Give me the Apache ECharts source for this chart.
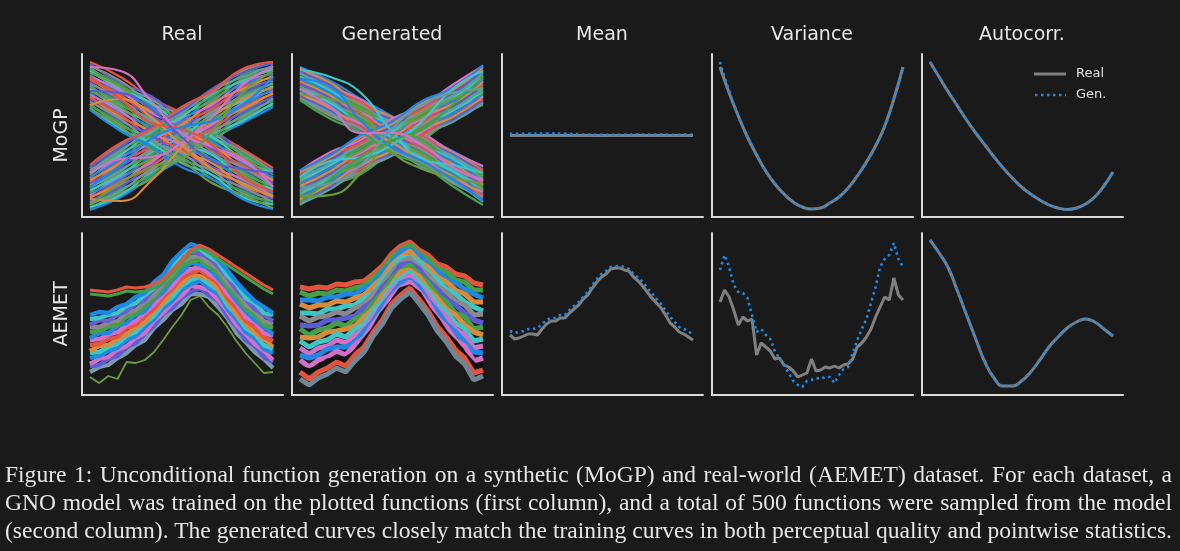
<!DOCTYPE html>
<html lang="en">
<head>
    <meta charset="utf-8" />
    <title>Unconditional function generation</title>
    <script type="text/javascript" src="https://cdn.jsdelivr.net/npm/echarts@6/dist/echarts.min.js"></script>
    <style type="text/css">
        html, body { margin: 0; padding: 0; background: #1a1a1a; }
        #main { width: 1180px; height: 551px; position: absolute; left: 0; top: 0; }
        .caption {
            position: absolute; left: 5px; width: 1167px; top: 460px;
            font-family: "Liberation Serif", "DejaVu Serif", serif;
            font-size: 22px; line-height: 28px; color: #e6e6e6;
        }
        .caption div { text-align: justify; text-align-last: justify; white-space: nowrap; }
    </style>
</head>
<body>
    <div id="main"></div>
    <div class="caption" id="caption">
        <div>Figure 1: Unconditional function generation on a synthetic (MoGP) and real-world (AEMET) dataset. For each dataset, a</div>
        <div>GNO model was trained on the plotted functions (first column), and a total of 500 functions were sampled from the model</div>
        <div>(second column). The generated curves closely match the training curves in both perceptual quality and pointwise statistics.</div>
    </div>

    <script type="text/javascript">
        // column / row titles
        var colTitles = ['Real', 'Generated', 'Mean', 'Variance', 'Autocorr.'];
        var rowTitles = ['MoGP', 'AEMET'];
        var legendNames = ['Real', 'Gen.'];

        // x positions (0..100 across each panel)
        var xs7 = [0, 16.7, 33.3, 50, 66.7, 83.3, 100];
        var xs11 = [0, 10, 20, 30, 40, 50, 60, 70, 80, 90, 100];
        var xs21 = [0, 5, 10, 15, 20, 25, 30, 35, 40, 45, 50, 55, 60, 65, 70, 75, 80, 85, 90, 95, 100];
        var xs41 = [0, 2.5, 5, 7.5, 10, 12.5, 15, 17.5, 20, 22.5, 25, 27.5, 30, 32.5, 35, 37.5, 40, 42.5, 45, 47.5, 50,
            52.5, 55, 57.5, 60, 62.5, 65, 67.5, 70, 72.5, 75, 77.5, 80, 82.5, 85, 87.5, 90, 92.5, 95, 97.5, 100];

        // MoGP real curves (falling family / rising family)
        var mogpRealDown = [
            [155, 140, 119, 104, 86, 68, 49], [153, 134, 121, 100, 88, 64, 47], [151, 136, 114, 102, 80, 66, 45],
            [149, 130, 118, 96, 84, 62, 46], [147, 132, 112, 98, 78, 64, 42], [146, 128, 114, 92, 80, 58, 44],
            [144, 130, 108, 94, 74, 60, 38], [142, 124, 110, 90, 76, 54, 40], [140, 126, 104, 92, 70, 56, 36],
            [138, 120, 106, 86, 72, 50, 37], [137, 122, 100, 88, 66, 52, 33], [135, 116, 102, 82, 68, 48, 34],
            [133, 118, 96, 84, 62, 50, 30], [131, 112, 98, 78, 64, 44, 31], [129, 114, 92, 80, 58, 46, 27],
            [128, 108, 94, 74, 62, 40, 28], [126, 110, 88, 76, 54, 42, 24], [124, 104, 90, 70, 58, 36, 25],
            [122, 106, 84, 72, 50, 38, 21], [120, 100, 86, 66, 54, 32, 22], [119, 102, 80, 68, 46, 34, 18],
            [117, 96, 82, 62, 50, 28, 19], [115, 98, 76, 64, 42, 30, 15], [113, 92, 78, 58, 46, 24, 16],
            [111, 94, 72, 60, 38, 26, 12], [109, 88, 74, 54, 42, 20, 13], [108, 90, 68, 56, 34, 22, 9],
            [107, 86, 70, 50, 38, 18, 8], [150, 146, 116, 84, 70, 58, 30], [112, 118, 100, 72, 48, 34, 20],
            [140, 118, 94, 88, 72, 40, 26], [126, 124, 108, 80, 56, 48, 44]
        ];
        var mogpRealUp = [
            [7, 20, 40, 58, 78, 94, 110], [9, 24, 38, 62, 76, 98, 112], [10, 22, 44, 60, 82, 96, 114],
            [12, 28, 42, 66, 80, 102, 116], [14, 26, 48, 64, 86, 100, 118], [15, 32, 46, 70, 84, 106, 119],
            [17, 30, 52, 68, 90, 104, 121], [19, 36, 50, 74, 88, 110, 123], [20, 34, 56, 72, 94, 108, 124],
            [22, 40, 54, 78, 92, 114, 126], [24, 38, 60, 76, 98, 112, 128], [25, 44, 58, 82, 96, 118, 129],
            [27, 42, 64, 80, 102, 116, 131], [29, 48, 62, 86, 100, 122, 133], [30, 46, 68, 84, 106, 120, 134],
            [32, 52, 66, 90, 104, 126, 136], [34, 50, 72, 88, 110, 124, 138], [35, 56, 70, 94, 108, 130, 139],
            [37, 54, 76, 92, 114, 128, 141], [39, 60, 74, 98, 112, 134, 143], [40, 58, 80, 96, 118, 132, 144],
            [42, 64, 78, 102, 116, 138, 146], [44, 62, 84, 100, 122, 136, 148], [45, 68, 82, 106, 120, 142, 149],
            [47, 66, 88, 104, 126, 140, 151], [49, 72, 86, 108, 124, 146, 153], [50, 70, 90, 106, 128, 144, 154],
            [52, 74, 88, 110, 126, 148, 155], [18, 16, 36, 70, 100, 118, 130], [44, 58, 60, 74, 100, 132, 150],
            [30, 52, 78, 90, 96, 112, 140], [12, 34, 50, 58, 86, 124, 146]
        ];
        // MoGP generated curves
        var mogpGenDown = [
            [150, 136, 118, 101, 82, 66, 50], [149, 131, 117, 97, 84, 65, 51], [148, 134, 113, 100, 80, 64, 47],
            [146, 128, 115, 94, 81, 61, 47], [145, 131, 110, 97, 77, 63, 44], [144, 126, 112, 92, 79, 59, 45],
            [143, 129, 108, 95, 75, 61, 41], [141, 123, 110, 89, 77, 56, 42], [140, 126, 105, 92, 72, 58, 38],
            [139, 121, 108, 87, 74, 54, 40], [138, 124, 103, 90, 70, 56, 36], [136, 118, 105, 84, 72, 51, 37],
            [135, 121, 100, 87, 67, 53, 33], [134, 116, 103, 82, 69, 49, 35], [133, 119, 98, 85, 65, 51, 31],
            [131, 113, 100, 79, 67, 46, 32], [130, 116, 95, 82, 62, 48, 28], [129, 111, 98, 77, 64, 44, 30],
            [128, 114, 93, 80, 60, 46, 26], [126, 108, 95, 74, 62, 41, 27], [125, 111, 90, 77, 57, 43, 23],
            [124, 106, 93, 72, 59, 39, 25], [123, 109, 88, 75, 55, 41, 21], [121, 103, 90, 69, 57, 36, 22],
            [120, 106, 85, 72, 52, 38, 18], [119, 101, 88, 67, 54, 34, 20], [118, 104, 83, 70, 50, 36, 15],
            [117, 98, 85, 64, 52, 31, 12], [147, 140, 124, 86, 58, 52, 44], [122, 118, 104, 66, 48, 40, 32],
            [138, 130, 96, 70, 56, 38, 16], [128, 110, 84, 84, 72, 50, 36]
        ];
        var mogpGenUp = [
            [12, 31, 43, 64, 77, 98, 112], [13, 28, 48, 61, 82, 95, 114], [14, 33, 45, 66, 79, 100, 115],
            [16, 31, 51, 64, 85, 98, 117], [17, 36, 48, 69, 82, 103, 118], [18, 33, 53, 66, 87, 100, 120],
            [20, 39, 51, 72, 85, 106, 121], [21, 36, 56, 69, 90, 103, 123], [22, 41, 53, 74, 87, 108, 124],
            [24, 39, 59, 72, 93, 106, 126], [25, 44, 56, 77, 90, 111, 127], [26, 41, 61, 74, 95, 108, 129],
            [27, 46, 58, 79, 92, 113, 130], [29, 44, 64, 77, 98, 111, 132], [30, 49, 61, 82, 95, 116, 133],
            [31, 46, 66, 79, 100, 113, 135], [33, 52, 64, 85, 98, 119, 136], [34, 49, 69, 82, 103, 116, 138],
            [35, 54, 66, 87, 100, 121, 139], [37, 52, 72, 85, 106, 119, 141], [38, 57, 69, 90, 103, 124, 142],
            [39, 54, 74, 87, 108, 121, 144], [41, 60, 72, 93, 106, 127, 145], [42, 57, 77, 90, 111, 124, 147],
            [43, 62, 74, 95, 108, 129, 148], [45, 60, 80, 93, 114, 127, 150], [46, 65, 77, 98, 111, 132, 151],
            [47, 62, 82, 95, 116, 129, 152], [20, 22, 44, 80, 104, 118, 130], [40, 56, 60, 72, 96, 128, 146],
            [15, 38, 60, 76, 88, 112, 140], [30, 34, 52, 88, 112, 124, 128]
        ];

        // AEMET real curves (21 points each)
        var aemetReal = [
            [23, 28, 30, 37, 42, 50, 55, 67, 75, 85, 91, 101, 101, 98, 88, 77, 62, 53, 43, 36, 27],
            [29, 30, 36, 39, 48, 52, 61, 69, 81, 87, 97, 103, 107, 100, 94, 79, 68, 55, 49, 38, 33],
            [31, 36, 38, 45, 49, 57, 62, 74, 82, 92, 99, 109, 108, 105, 95, 84, 70, 61, 51, 44, 35],
            [37, 39, 44, 47, 55, 59, 68, 76, 87, 94, 105, 111, 114, 107, 101, 86, 76, 63, 57, 46, 42],
            [42, 43, 48, 51, 59, 63, 72, 79, 91, 98, 109, 115, 118, 111, 105, 90, 80, 67, 61, 50, 46],
            [44, 49, 50, 56, 61, 68, 73, 84, 92, 104, 111, 120, 119, 116, 106, 95, 81, 72, 62, 56, 48],
            [50, 51, 56, 58, 67, 70, 79, 86, 98, 106, 117, 122, 125, 118, 112, 97, 87, 74, 68, 58, 54],
            [55, 56, 60, 63, 70, 74, 82, 90, 101, 109, 121, 126, 128, 121, 115, 101, 92, 78, 73, 62, 59],
            [57, 62, 62, 69, 72, 80, 84, 96, 103, 115, 123, 132, 130, 127, 117, 107, 94, 84, 75, 68, 61],
            [63, 64, 68, 70, 78, 81, 89, 97, 108, 117, 129, 134, 135, 128, 122, 108, 99, 86, 80, 70, 67],
            [68, 68, 72, 74, 82, 85, 93, 100, 112, 121, 133, 138, 139, 132, 126, 112, 103, 90, 84, 74, 71],
            [70, 75, 74, 80, 84, 91, 95, 106, 113, 127, 135, 143, 141, 138, 128, 118, 105, 96, 86, 80, 74],
            [76, 77, 80, 82, 89, 92, 100, 107, 118, 128, 141, 145, 146, 139, 133, 119, 111, 97, 92, 82, 80],
            [80, 83, 82, 88, 91, 98, 102, 113, 120, 134, 143, 151, 148, 145, 135, 125, 113, 103, 94, 88, 82]
        ];
        var aemetRealColors = ['#7b9bab', '#5c5bd6', '#d26fc6', '#1e88e5', '#3cc6c6', '#d98a3c', '#e4533d',
            '#d26fc6', '#1e88e5', '#43a047', '#8a8a8a', '#6b5fd0', '#3cc6c6', '#1e88e5'];
        var aemetRealLow = [18, 12, 19, 16, 33, 32, 35, 43, 55, 68, 80, 95, 99, 88, 80, 68, 54, 42, 32, 22, 23];
        var aemetRealTopRed = [105, 104, 103, 105, 108, 107, 108, 111, 116, 125, 135, 145, 150, 146, 140, 134, 128, 122, 116, 110, 105];
        var aemetRealTopGreen = [101, 100, 99, 101, 104, 103, 104, 107, 113, 122, 132, 142, 147, 142, 136, 130, 124, 118, 112, 106, 101];

        // AEMET generated curves
        var aemetGen = [
            [108, 106, 108, 107, 111, 110, 113, 114, 121, 129, 141, 149, 153, 145, 140, 131, 128, 121, 119, 112, 110],
            [103, 99, 102, 101, 105, 104, 107, 109, 117, 125, 137, 145, 150, 141, 136, 126, 123, 115, 113, 105, 105],
            [95, 95, 94, 98, 98, 101, 101, 107, 111, 123, 132, 144, 145, 140, 130, 124, 116, 112, 106, 101, 97],
            [91, 87, 90, 90, 94, 93, 97, 100, 109, 117, 130, 138, 144, 134, 128, 118, 113, 105, 101, 93, 93],
            [82, 82, 81, 86, 86, 89, 90, 97, 102, 115, 124, 137, 138, 133, 122, 115, 106, 101, 93, 88, 84],
            [79, 74, 78, 79, 83, 81, 87, 91, 101, 110, 123, 132, 137, 128, 120, 109, 103, 94, 90, 80, 81],
            [70, 69, 70, 75, 75, 77, 79, 88, 94, 108, 117, 130, 132, 126, 114, 106, 96, 90, 82, 75, 72],
            [66, 60, 65, 67, 72, 69, 76, 81, 92, 102, 116, 124, 130, 120, 112, 100, 93, 82, 78, 66, 68],
            [58, 57, 58, 63, 64, 66, 69, 78, 86, 100, 110, 123, 125, 119, 106, 97, 86, 80, 70, 63, 60],
            [54, 48, 53, 55, 61, 58, 66, 71, 84, 94, 109, 117, 123, 113, 104, 91, 83, 72, 66, 54, 56],
            [47, 41, 47, 49, 55, 52, 60, 66, 79, 90, 105, 113, 120, 109, 100, 86, 78, 66, 60, 47, 49],
            [40, 37, 40, 46, 48, 48, 53, 64, 74, 89, 100, 112, 115, 108, 94, 84, 71, 63, 53, 43, 42],
            [35, 28, 35, 38, 44, 40, 50, 57, 71, 83, 98, 107, 113, 103, 92, 77, 68, 55, 49, 34, 37],
            [27, 24, 27, 34, 36, 36, 42, 54, 65, 81, 92, 105, 108, 101, 86, 75, 61, 52, 40, 30, 29],
            [23, 16, 23, 27, 33, 29, 40, 48, 63, 75, 91, 100, 107, 96, 84, 69, 58, 45, 37, 22, 25],
            [16, 10, 17, 21, 27, 23, 34, 43, 59, 71, 87, 96, 103, 92, 80, 64, 53, 39, 31, 15, 19]
        ];
        var aemetGenColors = ['#e4533d', '#43a047', '#1e88e5', '#d98a3c', '#3cc6c6', '#8a8a8a', '#5c5bd6',
            '#43a047', '#d98a3c', '#3cc6c6', '#d26fc6', '#1e88e5', '#d26fc6', '#111111', '#e4533d', '#6f8794'];

        // pointwise statistics (Real = gray, Gen. = blue dotted)
        var meanMogpReal = [81.5, 81.6, 81.5, 81.4, 81.5, 81.6, 81.5, 81.4, 81.5, 81.5, 81.5];
        var meanMogpGen = [83.3, 83.3, 83.4, 83.3, 82.5, 82.1, 82.3, 82.5, 82.4, 82.3, 82.4];
        var varMogpReal = [150, 124, 101, 80, 62, 46, 33, 23, 15, 10, 8, 9, 14, 20, 29, 41, 55, 71, 91, 118, 150];
        var varMogpGen = [155, 126, 101, 80, 62, 46, 33, 23, 15, 10, 8, 9, 14, 20, 29, 41, 54, 71, 90, 118, 150];
        var acMogpReal = [155, 140, 125, 111, 97, 84, 72, 60, 49, 39, 30, 23, 17, 12, 9, 7.5, 9, 13, 20, 31, 45];
        var acMogpGen = [155, 140, 125, 111, 97, 84, 72, 60, 49, 39, 30, 23, 17, 12, 9, 7.5, 9, 13, 20, 31, 45];

        var meanAemetReal = [60, 56, 57, 59, 61, 61, 60, 66, 71, 74, 74, 77, 77, 82, 86, 90, 96, 100, 107, 113, 118,
            121, 126, 127, 127, 125, 124, 118, 114, 109, 103, 97, 92, 87, 80, 72, 68, 63, 61, 58, 55];
        var meanAemetGen = [64, 62, 63, 64, 66, 66, 67, 71, 75, 77, 77, 80, 80, 85, 89, 93, 98, 103, 110, 116, 121,
            124, 128, 129, 129, 128, 126, 121, 117, 113, 107, 102, 96, 91, 85, 78, 73, 68, 66, 64, 60];
        var varAemetReal = [93, 105, 98, 85, 70, 78, 74, 76, 40, 52, 48, 44, 36, 37, 30, 28, 24, 18, 20, 22, 36,
            24, 25, 28, 27, 29, 27, 30, 31, 36, 48, 52, 58, 66, 78, 88, 98, 95, 117, 100, 95];
        var varAemetGen = [125, 140, 128, 110, 103, 102, 97, 80, 63, 66, 60, 56, 44, 36, 30, 22, 14, 10, 8, 14, 15,
            17, 16, 18, 18, 12, 20, 26, 28, 42, 55, 66, 76, 92, 108, 128, 136, 140, 152, 136, 128];
        var acAemetReal = [155, 142, 127, 104, 80, 56, 33, 17, 9, 9, 14, 23, 35, 48, 58, 67, 73, 76, 73, 66, 59];
        var acAemetGen = [155, 142, 127, 104, 80, 56, 33, 17, 9, 9, 14, 23, 35, 48, 58, 67, 73, 76, 73, 66, 59];

        var palette = ['#e4533d', '#1e88e5', '#43a047', '#5c5bd6', '#d26fc6', '#3cc6c6', '#8a8a8a', '#d98a3c', '#6d9a3f', '#5f9ea0'];

        // fit caption font so the last (unjustified) line spans the text width
        (function () {
            var cap = document.getElementById('caption');
            var ctx = document.createElement('canvas').getContext('2d');
            ctx.font = '22px "Liberation Serif"';
            var w = ctx.measureText(cap.children[2].textContent).width;
            cap.style.fontSize = (22 * 1165 / w).toFixed(2) + 'px';
        })();

        var colLeft = [82, 292, 502, 712, 922];
        var rowTop = [54, 233];
        var rowH = [163, 162];

        var grids = [], xAxes = [], yAxes = [], series = [], graphics = [];
        var spine = { show: true, onZero: false, lineStyle: { color: '#d8d8d8', width: 2 } };

        for (var r = 0; r < 2; r++) {
            for (var c = 0; c < 5; c++) {
                grids.push({ left: colLeft[c], top: rowTop[r], width: 201, height: rowH[r] });
                var gi = grids.length - 1;
                xAxes.push({
                    type: 'value', gridIndex: gi, min: -4.37, max: 105.46,
                    axisLine: spine, axisTick: { show: false }, axisLabel: { show: false }, splitLine: { show: false }
                });
                yAxes.push({
                    type: 'value', gridIndex: gi, min: 0, max: rowH[r],
                    axisLine: spine, axisTick: { show: false }, axisLabel: { show: false }, splitLine: { show: false }
                });
            }
        }

        function curve(idx, xs, ys, color, width, smooth, dash) {
            var d = [];
            for (var i = 0; i < xs.length; i++) d.push([xs[i], ys[i]]);
            var s = {
                type: 'line', xAxisIndex: idx, yAxisIndex: idx, data: d,
                symbol: 'none', showSymbol: false, smooth: smooth, silent: true,
                lineStyle: { color: color, width: width }, itemStyle: { color: color },
                emphasis: { disabled: true }
            };
            if (dash) s.lineStyle.type = dash;
            series.push(s);
        }

        // MoGP spaghetti, interleave families so colours mix
        for (var i = 0; i < mogpRealDown.length; i++) {
            curve(0, xs7, mogpRealDown[i], palette[(i * 3) % 10], 2.2, 0.5);
            curve(0, xs7, mogpRealUp[i], palette[(i * 7 + 1) % 10], 2.2, 0.5);
        }
        for (var i = 0; i < mogpGenDown.length; i++) {
            curve(1, xs7, mogpGenDown[i], palette[(i * 3 + 1) % 10], 2.2, 0.5);
            curve(1, xs7, mogpGenUp[i], palette[(i * 7 + 2) % 10], 2.2, 0.5);
        }

        // AEMET spaghetti
        curve(5, xs21, aemetRealLow, '#6d9a3f', 1.8, false);
        for (var i = 0; i < aemetReal.length; i++) {
            curve(5, xs21, aemetReal[i], aemetRealColors[i], 4.3, false);
        }
        curve(5, xs21, aemetRealTopGreen, '#43a047', 3, false);
        curve(5, xs21, aemetRealTopRed, '#e4533d', 3, false);
        for (var i = 0; i < aemetGen.length; i++) {
            curve(6, xs21, aemetGen[i], aemetGenColors[i], 5, false);
        }

        // statistics
        var grayLine = '#808080', blueDot = '#1e88e5', dotType = [2.5, 3.5];
        curve(2, xs11, meanMogpReal, grayLine, 3, true);
        curve(2, xs11, meanMogpGen, blueDot, 2.6, true, dotType);
        curve(3, xs21, varMogpReal, grayLine, 3, true);
        curve(3, xs21, varMogpGen, blueDot, 2.6, true, dotType);
        curve(4, xs21, acMogpReal, grayLine, 3, true);
        curve(4, xs21, acMogpGen, blueDot, 2.6, true, dotType);
        curve(7, xs41, meanAemetReal, grayLine, 3, false);
        curve(7, xs41, meanAemetGen, blueDot, 2.6, false, dotType);
        curve(8, xs41, varAemetReal, grayLine, 3, false);
        curve(8, xs41, varAemetGen, blueDot, 2.6, false, dotType);
        curve(9, xs21, acAemetReal, grayLine, 3, true);
        curve(9, xs21, acAemetGen, blueDot, 2.6, true, dotType);

        // column titles and row labels
        for (var c = 0; c < 5; c++) {
            graphics.push({
                type: 'text', x: colLeft[c] + 100, y: 35, silent: true,
                style: { text: colTitles[c], fill: '#e6e6e6', font: '19px "DejaVu Sans"', textAlign: 'center', textVerticalAlign: 'middle' }
            });
        }
        for (var r = 0; r < 2; r++) {
            graphics.push({
                type: 'text', x: 62, y: rowTop[r] + rowH[r] / 2, rotation: Math.PI / 2, silent: true,
                style: { text: rowTitles[r], fill: '#e6e6e6', font: '19px "DejaVu Sans"', textAlign: 'center', textVerticalAlign: 'middle' }
            });
        }
        // legend drawn in the autocorr panel
        graphics.push({ type: 'line', silent: true, shape: { x1: 1034, y1: 74, x2: 1066, y2: 74 },
            style: { stroke: grayLine, lineWidth: 3 } });
        graphics.push({ type: 'line', silent: true, shape: { x1: 1035, y1: 95, x2: 1066, y2: 95 },
            style: { stroke: blueDot, lineWidth: 2.6, lineDash: dotType } });
        graphics.push({ type: 'text', x: 1076, y: 74, silent: true,
            style: { text: legendNames[0], fill: '#e0e0e0', font: '13px "DejaVu Sans"', textVerticalAlign: 'middle' } });
        graphics.push({ type: 'text', x: 1076, y: 95, silent: true,
            style: { text: legendNames[1], fill: '#e0e0e0', font: '13px "DejaVu Sans"', textVerticalAlign: 'middle' } });

        var myChart = echarts.init(document.getElementById('main'));
        var option = {
            backgroundColor: '#1a1a1a',
            animation: false,
            grid: grids,
            xAxis: xAxes,
            yAxis: yAxes,
            graphic: graphics,
            series: series
        };
        myChart.setOption(option, true);
    </script>
</body>
</html>
